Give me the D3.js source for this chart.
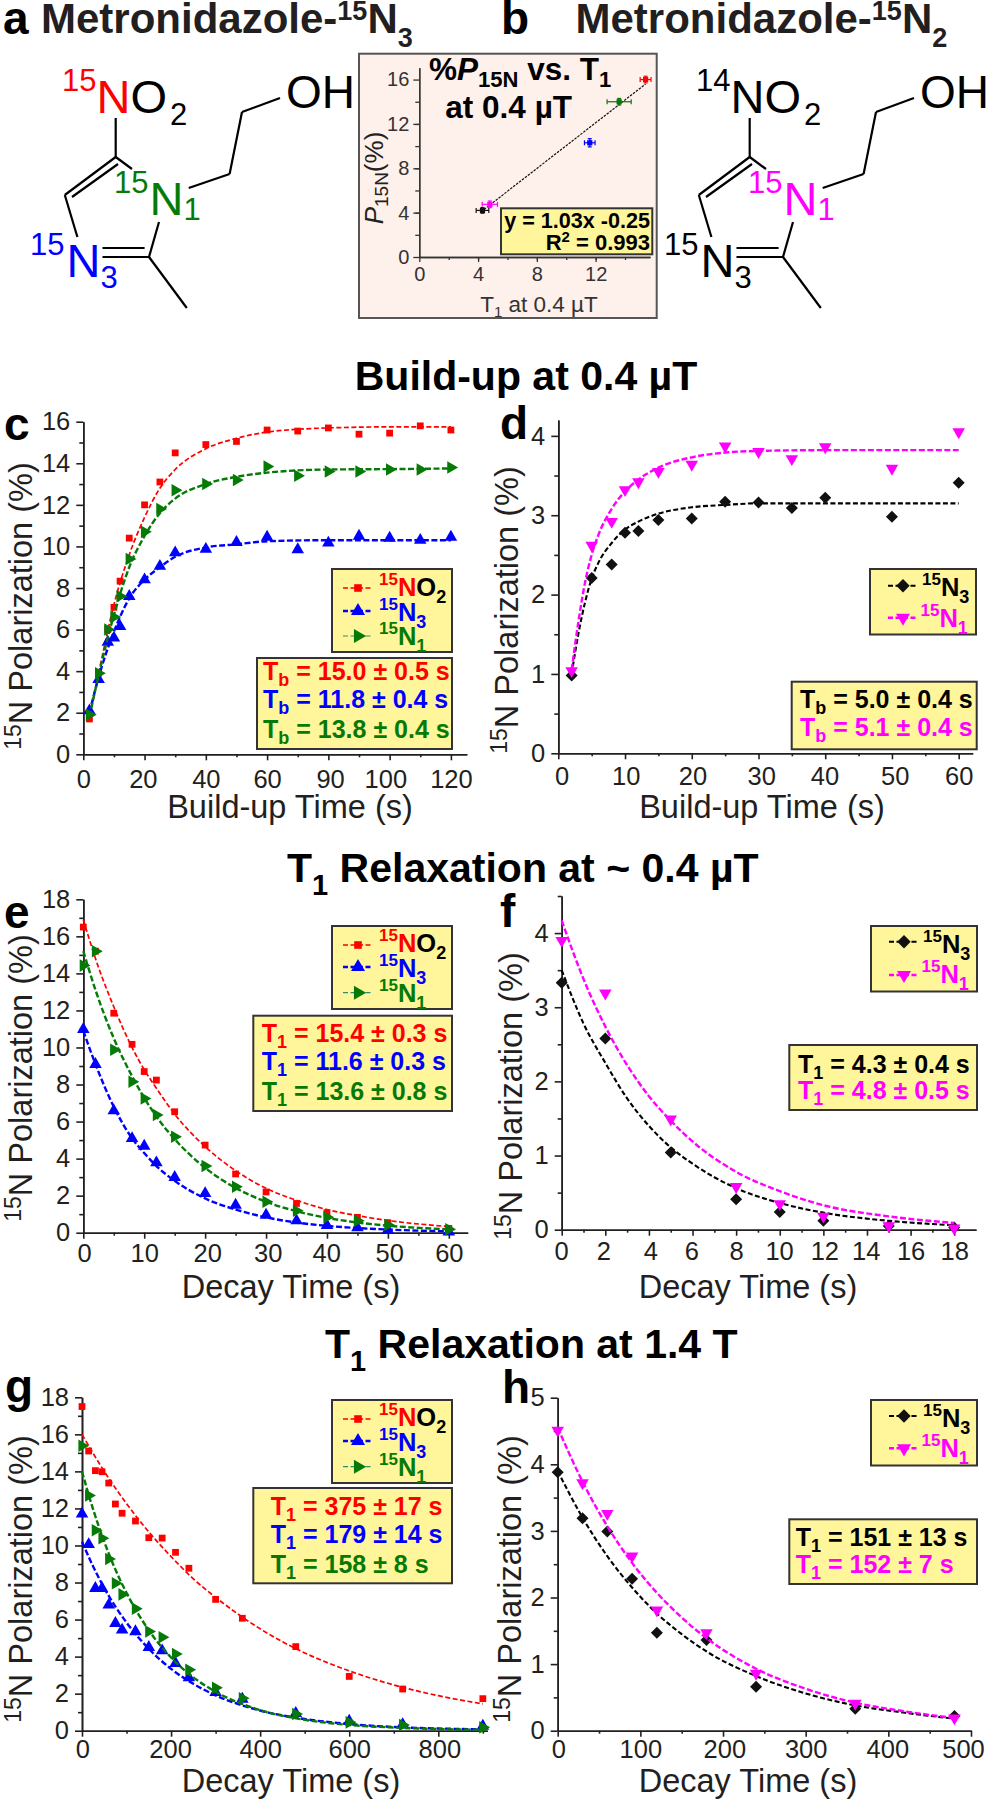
<!DOCTYPE html>
<html><head><meta charset="utf-8">
<script src="https://cdn.jsdelivr.net/npm/d3@7"></script>
<style>html,body{margin:0;padding:0;background:#fff}svg{display:block}text{font-family:"Liberation Sans",Arial,sans-serif;white-space:pre}</style>
</head><body><svg id="c" width="986" height="1799"></svg>
<script>
// ---- DATA ----
const cX=[2,5,8,10,12,15,20,25,30,40,50,60,70,80,90,100,110,120];
const cNO2=[1.7,3.9,6.0,7.07,8.33,10.4,12.0,13.1,14.5,14.9,15.05,15.6,15.55,15.7,15.4,15.45,15.8,15.6];
const cN3=[2.1,3.6,5.4,5.6,6.15,7.6,8.4,9.05,9.7,9.87,10.2,10.45,9.85,10.17,10.5,10.4,10.3,10.45];
const cN1=[1.9,3.9,6.0,6.6,7.6,9.4,10.7,11.8,12.7,13.0,13.2,13.85,13.4,13.6,13.6,13.7,13.7,13.8];
const cFitX=[2,5,10,15,20,25,30,40,50,60,80,100,120];
const cFitNO2=[1.8,3.9,7.2,9.6,11.4,12.8,13.7,14.7,15.2,15.5,15.7,15.75,15.75];
const cFitN3=[2.0,3.7,5.9,7.5,8.4,9.0,9.5,9.95,10.1,10.25,10.3,10.3,10.3];
const cFitN1=[1.8,3.8,6.7,9.0,10.5,11.6,12.3,13.0,13.35,13.55,13.7,13.72,13.75];
const cXLabels=["0","20","40","60","90","100","120"];

const dX=[2,5,8,10,12,15,20,25,30,35,40,50,60];
const dN3=[0.98,2.21,2.38,2.78,2.8,2.94,2.96,3.17,3.16,3.09,3.22,2.98,3.41];
const dN1=[1.04,2.62,2.92,3.32,3.42,3.55,3.64,3.87,3.8,3.71,3.86,3.59,4.05];
const dFitX=[2,3,4,5,6,8,10,12,15,20,25,30,40,60];
const dFitN3=[1.0,1.5,1.9,2.2,2.4,2.65,2.82,2.92,3.02,3.1,3.13,3.15,3.15,3.15];
const dFitN1=[1.05,1.65,2.15,2.5,2.75,3.08,3.3,3.45,3.6,3.73,3.79,3.81,3.82,3.82];

const eX=[0,2,5,8,10,12,15,20,25,30,35,40,45,50,60];
const eNO2=[16.5,15.2,11.85,10.17,8.7,8.24,6.53,4.73,3.17,2.2,1.58,1.08,0.83,0.54,0.23];
const eN3=[10.98,9.09,6.59,5.09,4.68,3.78,2.99,2.12,1.49,0.95,0.65,0.4,0.27,0.14,0.05];
const eN1=[14.42,15.19,9.88,8.15,7.25,6.35,5.18,3.6,2.48,1.67,1.19,0.83,0.65,0.41,0.18];
const eFitNO2=[16.9,14.8,12.2,10.0,8.8,7.8,6.4,4.65,3.35,2.4,1.75,1.25,0.92,0.66,0.33];
const eFitN3=[10.9,9.1,6.8,5.1,4.3,3.6,2.8,1.85,1.25,0.83,0.55,0.37,0.25,0.17,0.07];
const eFitN1=[15.2,13.1,10.5,8.45,7.28,6.27,5.05,3.5,2.42,1.67,1.16,0.8,0.55,0.38,0.18];

const fX=[0,2,5,8,10,12,15,18];
const fN3=[3.33,2.58,1.04,0.41,0.24,0.12,0.05,0.03];
const fN1=[3.9,3.19,1.49,0.58,0.35,0.18,0.05,0.02];
const fFitX=[0,1,2,3,4,5,6,8,10,12,15,18];
const fFitN3=[3.5,2.78,2.25,1.77,1.4,1.11,0.89,0.56,0.36,0.23,0.12,0.06];
const fFitN1=[4.17,3.38,2.74,2.22,1.8,1.47,1.19,0.78,0.52,0.33,0.18,0.09];
const fXLabels=["0","2","4","6","8","10","12","14","16","18"];

const gX=[0,15,30,45,60,75,90,120,150,180,210,240,300,360,480,600,720,900];
const gNO2=[17.5,15.1,14.04,13.98,13.37,12.24,11.74,11.32,10.42,10.4,9.63,8.77,7.09,6.07,4.54,2.93,2.25,1.73];
const gN3=[11.7,10.06,7.69,7.69,6.79,5.8,5.44,5.35,4.5,4.32,3.64,2.86,2.07,1.71,0.94,0.52,0.34,0.25];
const gN1=[15.39,12.7,10.82,10.39,9.27,7.96,7.36,6.59,5.36,5.04,4.14,3.29,2.32,1.75,0.9,0.45,0.31,0.18];
const gFitNO2X=[0,50,100,150,200,250,300,400,500,600,700,800,900];
const gFitNO2=[16.0,14.0,12.26,10.73,9.4,8.2,7.2,5.5,4.2,3.23,2.47,1.89,1.45];
const gFitX=[0,25,50,75,100,150,200,250,300,400,500,600,700,800,900];
const gFitN3=[10.2,8.87,7.7,6.7,5.84,4.42,3.34,2.53,1.91,1.09,0.63,0.36,0.2,0.12,0.07];
const gFitN1=[14,11.95,10.2,8.7,7.44,5.42,3.95,2.88,2.1,1.11,0.59,0.31,0.17,0.09,0.05];

const hX=[0,30,60,90,120,180,240,360,480];
const hN3=[3.88,3.19,2.99,2.28,1.47,1.36,0.66,0.33,0.22];
const hN1=[4.51,3.72,3.26,2.62,1.81,1.47,0.86,0.41,0.19];
const hFitX=[0,30,60,90,120,150,180,240,300,360,420,480];
const hFitN3=[3.9,3.2,2.62,2.15,1.76,1.45,1.19,0.82,0.56,0.38,0.27,0.18];
const hFitN1=[4.55,3.74,3.07,2.52,2.07,1.7,1.39,0.93,0.63,0.42,0.29,0.19];

const insetT1=[15.4,13.6,11.6,4.8,4.3];
const insetP=[16.0,14.0,10.3,4.75,4.2];
const insetXErr=[0.37,0.82,0.36,0.52,0.43];
const insetYErr=[0.3,0.3,0.37,0.3,0.25];
const insetFitX=[4.4,15.4];
const insetFitY=[4.28,15.6];

const statsC=[["b","15.0 ± 0.5 s","red"],["b","11.8 ± 0.4 s","blue"],["b","13.8 ± 0.4 s","green"]];
const statsD=[["b","5.0 ± 0.4 s","black"],["b","5.1 ± 0.4 s","magenta"]];
const statsE=[["1","15.4 ± 0.3 s","red"],["1","11.6 ± 0.3 s","blue"],["1","13.6 ± 0.8 s","green"]];
const statsF=[["1","4.3 ± 0.4 s","black"],["1","4.8 ± 0.5 s","magenta"]];
const statsG=[["1","375 ± 17 s","red"],["1","179 ± 14 s","blue"],["1","158 ± 8 s","green"]];
const statsH=[["1","151 ± 13 s","black"],["1","152 ± 7 s","magenta"]];

// ---- STYLE ----
const RED="#ff0000",BLUE="#0000ff",GREEN="#067a06",MAG="#ff00ff",BLK="#111111",INK="#231f20",YEL="#fff59b";
const colorOf={red:RED,blue:BLUE,green:GREEN,magenta:MAG,black:"#000"};
const S={
 NO2:{c:RED,type:d3.symbolSquare,size:46,rot:0,w:1.7,fitc:RED,dash:"5,2.5",legW:1.7,legC:RED},
 N3:{c:BLUE,type:d3.symbolTriangle,size:68,rot:0,w:2.4,fitc:BLUE,dash:"6,2.5",legW:2.4,legC:BLUE},
 N1:{c:GREEN,type:d3.symbolTriangle,size:68,rot:90,w:2.4,fitc:GREEN,dash:"6,2.5",legW:1.2,legC:"#2e8b7a"},
 K:{c:BLK,type:d3.symbolSquare,size:72,rot:45,w:2.1,fitc:"#000",dash:"5,2.5",legW:2.1,legC:"#000"},
 M:{c:MAG,type:d3.symbolTriangle,size:68,rot:180,w:2.4,fitc:MAG,dash:"6,2.5",legW:2.4,legC:MAG}
};
const svg=d3.select("#c");

function rich(g,x,y,parts,o={}){
  const t=g.append("text").attr("x",x).attr("y",y).attr("font-size",o.size||20)
    .attr("fill",o.fill||INK).attr("font-weight",o.bold?"bold":"normal");
  if(o.anchor)t.attr("text-anchor",o.anchor);
  if(o.transform)t.attr("transform",o.transform);
  let prev=0;
  parts.forEach(p=>{
    const sh=p.dy||0;
    const s=t.append("tspan").text(p.t).attr("dy",sh-prev);
    prev=sh;
    if(p.size)s.attr("font-size",p.size);
    if(p.fill)s.attr("fill",p.fill);
    if(p.italic)s.attr("font-style","italic");
    if(p.dx)s.attr("dx",p.dx);
  });
  return t;
}
const txt=(x,y,s,size,o={})=>rich(svg,x,y,[{t:s}],Object.assign({size},o));

function panel(cfg){
  const g=svg.append("g");
  const x=d3.scaleLinear().domain(cfg.xDom).range(cfg.xRange);
  const y=d3.scaleLinear().domain(cfg.yDom).range(cfg.yRange);
  const y0=y(0),x0=x(0);
  const col=cfg.axisColor||INK, fs=cfg.tickFont||25.5;
  const ax=g.append("g").attr("transform",`translate(0,${y0})`)
    .call(d3.axisBottom(x).tickValues(cfg.xMajor).tickSizeInner(cfg.xTick||6).tickSizeOuter(0).tickPadding(cfg.xPad)
      .tickFormat((d,i)=>cfg.xLabels?cfg.xLabels[i]:d));
  if(cfg.xShift)ax.selectAll(".tick text").attr("dx",(d,i)=>cfg.xShift[i]);
  const ay=g.append("g").attr("transform",`translate(${x0},0)`)
    .call(d3.axisLeft(y).tickValues(cfg.yMajor).tickSizeInner(cfg.yTick||7).tickSizeOuter(0).tickPadding(cfg.yPad||6).tickFormat(d=>d));
  const mx=g.append("g").attr("transform",`translate(0,${y0})`)
    .call(d3.axisBottom(x).tickValues(cfg.xMinor).tickSizeInner(cfg.minorX||3).tickSizeOuter(0).tickFormat(""));
  const my=g.append("g").attr("transform",`translate(${x0},0)`)
    .call(d3.axisLeft(y).tickValues(cfg.yMinor).tickSizeInner(4).tickSizeOuter(0).tickFormat(""));
  [ax,ay,mx,my].forEach(a=>{
    a.selectAll("path").attr("stroke",col).attr("stroke-width",cfg.axisW||1.6);
    a.selectAll("line").attr("stroke",col).attr("stroke-width",cfg.axisW||1.6);
    a.selectAll("text").attr("fill",col).attr("font-size",fs).attr("font-family",'"Liberation Sans",Arial,sans-serif');
  });
  const line=d3.line().x(d=>x(d[0])).y(d=>y(d[1])).curve(d3.curveMonotoneX);
  (cfg.series||[]).forEach(s=>{
    const st=S[s.k];
    g.append("path").datum(d3.zip(s.fx,s.fy)).attr("d",line).attr("fill","none")
      .attr("stroke",st.fitc).attr("stroke-width",st.w).attr("stroke-dasharray",st.dash);
    g.append("g").selectAll("path").data(d3.zip(s.x,s.y)).join("path")
      .attr("d",d3.symbol().type(st.type).size(st.size))
      .attr("fill",st.c)
      .attr("transform",d=>`translate(${x(d[0])},${y(d[1])}) rotate(${st.rot})`);
  });
  return {g,x,y};
}
function yTitle(x,yc){
  rich(svg,x,yc,[{t:"15",size:23,dy:-11},{t:"N Polarization (%)"}],
    {size:32.5,anchor:"middle",transform:`rotate(-90 ${x} ${yc})`});
}
function xTitle(x,yb,s){txt(x,yb,s,32.5,{anchor:"middle"});}
function box(x0,y0,x1,y1){
  svg.append("rect").attr("x",x0).attr("y",y0).attr("width",x1-x0).attr("height",y1-y0)
    .attr("fill",YEL).attr("stroke","#333").attr("stroke-width",2);
}
function legendEntry(x0,x1,yl,tx,by,k,parts){
  const st=S[k];
  svg.append("line").attr("x1",x0).attr("x2",x1).attr("y1",yl).attr("y2",yl)
    .attr("stroke",st.legC).attr("stroke-width",st.legW).attr("stroke-dasharray","5,2.5");
  svg.append("path").attr("d",d3.symbol().type(st.type).size(st.size*1.25)())
    .attr("fill",st.c).attr("transform",`translate(${(x0+x1)/2},${yl}) rotate(${st.rot})`);
  rich(svg,tx,by,parts,{size:25.5,bold:true});
}
const iso=(c,name,sub,rest)=>{
  const p=[{t:"15",size:17,dy:-11,fill:c},{t:"N",fill:c}];
  if(rest)p.push({t:"O",fill:"#000"},{t:"2",size:18,dy:7,fill:"#000"});
  else p.push({t:sub,size:18,dy:7,fill:c});
  return p;
};
function legend3(ty,lines,bases){
  box(332,ty,452,ty+83);
  legendEntry(343,373,lines[0],379,bases[0],"NO2",iso(RED,"","",true));
  legendEntry(343,373,lines[1],379,bases[1],"N3",iso(BLUE,"","3"));
  legendEntry(343,373,lines[2],379,bases[2],"N1",iso(GREEN,"","1"));
}
function legend2(x,ty,lines,bases){
  box(x,ty,x+106,ty+65.5);
  legendEntry(x+18,x+48,lines[0],x+52,bases[0],"K",iso("#000","","3"));
  legendEntry(x+18,x+48,lines[1],x+50.5,bases[1],"M",iso(MAG,"","1"));
}
function stats(x0,y0,x1,y1,tx,bases,rows){
  box(x0,y0,x1,y1);
  rows.forEach((r,i)=>{
    const c=colorOf[r[2]];
    rich(svg,tx,bases[i],[{t:"T",fill:c},{t:r[0],size:18,dy:6,fill:c},{t:" = "+r[1],fill:c,dy:0}],{size:25,bold:true});
  });
}

// ---- PANELS ----
panel({xDom:[0,125.2],xRange:[83.3,83.3+125.2*3.0633],yDom:[0,16],yRange:[754.3,421.7],
 xMajor:d3.range(0,121,20),xMinor:d3.range(10,120,20),xLabels:cXLabels,xPad:9.7,xShift:[0,-1.7,0,0,1.7,-4.3,0],
 yMajor:d3.range(0,17,2),yMinor:d3.range(1,16,2),
 series:[{k:"NO2",x:cX,y:cNO2,fx:cFitX,fy:cFitNO2},{k:"N3",x:cX,y:cN3,fx:cFitX,fy:cFitN3},{k:"N1",x:cX,y:cN1,fx:cFitX,fy:cFitN1}]});
panel({xDom:[0,62.1],xRange:[558.3,972.7],yDom:[0,4.2],yRange:[753.3,420],
 xMajor:d3.range(0,61,10),xMinor:d3.range(5,60,10),xPad:7.5,xShift:[3.3,0.7,0.7,2.7,-0.7,2.7,0],
 yMajor:d3.range(0,5),yMinor:[0.5,1.5,2.5,3.5],
 series:[{k:"K",x:dX,y:dN3,fx:dFitX,fy:dFitN3},{k:"M",x:dX,y:dN1,fx:dFitX,fy:dFitN1}]});
panel({xDom:[0,63.1],xRange:[83.3,467.7],yDom:[0,18],yRange:[1232.7,899.3],
 xMajor:d3.range(0,61,10),xMinor:d3.range(5,60,10),xPad:5,xShift:[0.7,0,2,1.7,-0.7,1.3,0],
 yMajor:d3.range(0,19,2),yMinor:d3.range(1,18,2),
 series:[{k:"NO2",x:eX,y:eNO2,fx:eX,fy:eFitNO2},{k:"N3",x:eX,y:eN3,fx:eX,fy:eFitN3},{k:"N1",x:eX,y:eN1,fx:eX,fy:eFitN1}]});
panel({xDom:[0,19],xRange:[561.7,976],yDom:[0,4.5],yRange:[1229.7,896],
 xMajor:d3.range(0,19,2),xMinor:d3.range(1,19,2),xLabels:fXLabels,xPad:6,xShift:[-0.7,-2,1.3,-1.3,0,-0.7,1,-1.3,0,0],
 yMajor:d3.range(0,5),yMinor:[0.5,1.5,2.5,3.5,4.5],
 series:[{k:"K",x:fX,y:fN3,fx:fFitX,fy:fFitN3},{k:"M",x:fX,y:fN1,fx:fFitX,fy:fFitN1}]});
panel({xDom:[0,910],xRange:[82,487.3],yDom:[0,18],yRange:[1730.7,1397.3],
 xMajor:d3.range(0,801,200),xMinor:d3.range(100,901,200),xPad:3.7,xShift:[0.3,-1,0,0,1],
 yMajor:d3.range(0,19,2),yMinor:d3.range(1,18,2),
 series:[{k:"NO2",x:gX,y:gNO2,fx:gFitNO2X,fy:gFitNO2},{k:"N3",x:gX,y:gN3,fx:gFitX,fy:gFitN3},{k:"N1",x:gX,y:gN1,fx:gFitX,fy:gFitN1}]});
panel({xDom:[0,500],xRange:[557.7,971],yDom:[0,5],yRange:[1730.7,1397.7],
 xMajor:d3.range(0,501,100),xMinor:d3.range(50,451,100),xPad:3.7,xShift:[0.7,0,1.3,0,-1,-8],
 yMajor:d3.range(0,6),yMinor:[0.5,1.5,2.5,3.5,4.5],
 series:[{k:"K",x:hX,y:hN3,fx:hFitX,fy:hFitN3},{k:"M",x:hX,y:hN1,fx:hFitX,fy:hFitN1}]});

// axis titles
yTitle(31.7,606);yTitle(518,610);yTitle(31.7,1078);yTitle(522,1096);yTitle(31.7,1579);yTitle(520.7,1579);
xTitle(290,818.3,"Build-up Time (s)");xTitle(762,818.3,"Build-up Time (s)");
xTitle(291,1298.3,"Decay Time (s)");xTitle(748,1298.3,"Decay Time (s)");
xTitle(291,1791.7,"Decay Time (s)");xTitle(748,1791.7,"Decay Time (s)");

// legends and stats
legend3(569,[588,611,636],[596,620.7,645]);
stats(257,658,452,749,263,[680,707.7,737.7],statsC);
legend2(870,569,[585.7,617.7],[596,626.7]);
stats(791.7,681.7,976.7,749.3,800,[708,736],statsD);
legend3(926,[945,967,992.7],[952,977,1001.7]);
stats(253.3,1015.7,452,1111,261.7,[1042,1070,1100],statsE);
legend2(871,926,[941.7,975],[952.7,983]);
stats(789.3,1045,977,1110,798,[1072.7,1099.3],statsF);
legend3(1400,[1419,1441,1466.7],[1426.3,1450.7,1475.7]);
stats(253.3,1488,452,1583.3,270.7,[1515,1542.7,1572.7],statsG);
legend2(871,1400,[1416,1448.3],[1426.7,1457.3]);
stats(789.3,1519.3,977,1584,795.7,[1545.7,1573.3],statsH);

// section titles
txt(526,390,"Build-up at 0.4 µT",41,{bold:true,anchor:"middle",fill:"#000"});
rich(svg,287,881.7,[{t:"T"},{t:"1",size:29,dy:13},{t:" Relaxation at ~ 0.4 µT",dy:0}],{size:41,bold:true,fill:"#000"});
rich(svg,325,1358,[{t:"T"},{t:"1",size:29,dy:13},{t:" Relaxation at 1.4 T",dy:0}],{size:41,bold:true,fill:"#000"});

// panel letters
[["a",3,34],["b",501,34],["c",4,440],["d",500,439],["e",4,928],["f",500,927],["g",5,1402],["h",502,1403]]
 .forEach(l=>txt(l[1],l[2],l[0],46,{bold:true,fill:"#000"}));

// top titles
rich(svg,41,33,[{t:"Metronidazole-"},{t:"15",size:27,dy:-13},{t:"N",dy:0},{t:"3",size:27,dy:14}],{size:42,bold:true});
rich(svg,575.5,33,[{t:"Metronidazole-"},{t:"15",size:27,dy:-13},{t:"N",dy:0},{t:"2",size:27,dy:14}],{size:42,bold:true});

// molecules
const bonds=[[115.7,118,115.7,157],[115.7,157,64.8,195],[118,164,72,197],[115.7,157,132,169],[64.8,195,77.4,237],
 [102.5,248,144.6,248],[102.5,257,149,257],[149,257,159,222],[149,257,186.8,308],[188.7,188,229.6,174],[229.6,174,242,112],[242,112,280,98]];
[0,634].forEach(off=>{
  svg.append("g").selectAll("line").data(bonds).join("line")
   .attr("x1",d=>d[0]+off).attr("y1",d=>d[1]).attr("x2",d=>d[2]+off).attr("y2",d=>d[3])
   .attr("stroke","#000").attr("stroke-width",2.2);
});
const mol=(x,y,parts)=>rich(svg,x,y,parts,{size:47,fill:"#000"});
mol(62,113,[{t:"15",size:31,dy:-22,fill:RED},{t:"N",dy:0,fill:RED},{t:"O"},{t:"2",size:31,dy:12,dx:3}]);
txt(286,108,"OH",46,{fill:"#000"});
mol(114,215,[{t:"15",size:31,dy:-22,fill:GREEN},{t:"N",dy:0,fill:GREEN,dx:1},{t:"1",size:31,dy:5,fill:GREEN}]);
mol(30,277,[{t:"15",size:31,dy:-22,fill:BLUE},{t:"N",dy:0,fill:BLUE,dx:2},{t:"3",size:31,dy:11,fill:BLUE}]);
mol(696,113,[{t:"14",size:31,dy:-22},{t:"N",dy:0},{t:"O"},{t:"2",size:31,dy:12,dx:3}]);
txt(920,108,"OH",46,{fill:"#000"});
mol(748,215,[{t:"15",size:31,dy:-22,fill:MAG},{t:"N",dy:0,fill:MAG,dx:1},{t:"1",size:31,dy:5,fill:MAG}]);
mol(664,277,[{t:"15",size:31,dy:-22},{t:"N",dy:0,dx:2},{t:"3",size:31,dy:11}]);

// inset
svg.append("rect").attr("x",359).attr("y",53.7).attr("width",297.7).attr("height",264.3)
  .attr("fill","#fef0eb").attr("stroke","#555").attr("stroke-width",2);
const ins=panel({xDom:[0,15.7],xRange:[419.3,650],yDom:[0,17.07],yRange:[257,67.7],
  xMajor:[0,4,8,12],xMinor:d3.range(2,15,2),xTick:5,xPad:5,axisColor:"#333",tickFont:20,axisW:1.3,
  yMajor:[0,4,8,12,16],yMinor:d3.range(2,15,2),yTick:6,yPad:4});
ins.g.append("path").datum(d3.zip(insetFitX,insetFitY))
  .attr("d",d3.line().x(d=>ins.x(d[0])).y(d=>ins.y(d[1]))).attr("fill","none").attr("stroke","#111").attr("stroke-width",1.2).attr("stroke-dasharray","2.5,1.2");
const insColors=[RED,GREEN,BLUE,MAG,"#111"];
insetT1.forEach((t,i)=>{
  const g=ins.g.append("g").attr("stroke",insColors[i]).attr("stroke-width",1.2);
  const X=ins.x(t),Y=ins.y(insetP[i]);
  const x1=ins.x(t-insetXErr[i]),x2=ins.x(t+insetXErr[i]),y1=ins.y(insetP[i]-insetYErr[i]),y2=ins.y(insetP[i]+insetYErr[i]);
  g.append("line").attr("x1",x1).attr("x2",x2).attr("y1",Y).attr("y2",Y);
  g.append("line").attr("x1",X).attr("x2",X).attr("y1",y1).attr("y2",y2);
  [x1,x2].forEach(v=>g.append("line").attr("x1",v).attr("x2",v).attr("y1",Y-2.5).attr("y2",Y+2.5));
  [y1,y2].forEach(v=>g.append("line").attr("y1",v).attr("y2",v).attr("x1",X-2).attr("x2",X+2));
  ins.g.append("rect").attr("x",X-2.6).attr("y",Y-2.6).attr("width",5.2).attr("height",5.2).attr("fill",insColors[i]);
});
rich(svg,429,80,[{t:"%"},{t:"P",italic:true},{t:"15N",size:22,dy:7},{t:" vs. T",dy:0},{t:"1",size:22,dy:7}],{size:31.5,bold:true,fill:"#000"});
txt(508.7,118,"at 0.4 µT",31.5,{bold:true,anchor:"middle",fill:"#000"});
box(501,208.3,652.3,254.3);
txt(650,228.3,"y = 1.03x -0.25",21.6,{bold:true,anchor:"end",fill:"#000"});
rich(svg,650,250,[{t:"R"},{t:"2",size:15,dy:-8},{t:" = 0.993",dy:0}],{size:22,bold:true,anchor:"end",fill:"#000"});
rich(svg,539,311.7,[{t:"T"},{t:"1",size:15,dy:5},{t:" at 0.4 µT",dy:0}],{size:22.5,anchor:"middle",fill:"#333"});
rich(svg,383,178,[{t:"P",italic:true},{t:"15N",size:19,dy:5},{t:"(%)",dy:0}],{size:26,anchor:"middle",fill:"#222",transform:"rotate(-90 383 178)"});
</script></body></html>
